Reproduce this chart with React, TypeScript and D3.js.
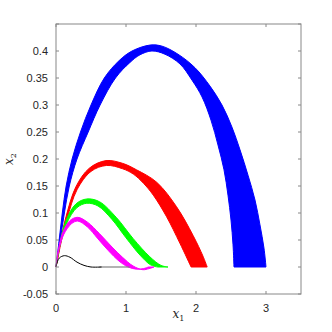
import React from "react";
import * as d3 from "d3";

type P = [number, number];

const xTicks = [0, 1, 2, 3];
const yTicks = [-0.05, 0, 0.05, 0.1, 0.15, 0.2, 0.25, 0.3, 0.35, 0.4, 0.45];
const yTickLabels = ["-0.05", "0", "0.05", "0.1", "0.15", "0.2", "0.25", "0.3", "0.35", "0.4", ""];

const blueOuter: P[] = [
  [0, 0], [0.045, 0.05], [0.09, 0.1], [0.145, 0.15], [0.23, 0.2], [0.35, 0.25],
  [0.5, 0.3], [0.69, 0.35], [0.9, 0.382], [1.086, 0.4], [1.343, 0.411],
  [1.514, 0.409], [1.743, 0.394], [1.986, 0.369], [2.2, 0.335], [2.371, 0.3], [2.514, 0.259],
  [2.629, 0.217], [2.743, 0.17], [2.843, 0.124], [2.914, 0.078], [2.971, 0.035], [3.0, 0],
];
const blueInner: P[] = [
  [0, 0], [0.06, 0.05], [0.12, 0.1], [0.19, 0.15], [0.3, 0.2], [0.46, 0.25],
  [0.63, 0.3], [0.85, 0.35], [1.05, 0.378], [1.2, 0.393], [1.371, 0.4],
  [1.557, 0.394], [1.771, 0.376], [1.943, 0.346], [2.086, 0.315], [2.214, 0.272], [2.314, 0.226],
  [2.4, 0.18], [2.457, 0.133], [2.5, 0.087], [2.529, 0.041], [2.543, 0],
];
const redOuter: P[] = [
  [0, 0], [0.03, 0.022], [0.07, 0.05], [0.143, 0.093], [0.286, 0.149], [0.476, 0.183],
  [0.714, 0.197], [0.95, 0.192], [1.15, 0.18], [1.438, 0.157], [1.72, 0.112], [1.96, 0.058],
  [2.1, 0.02], [2.16, 0],
];
const redInner: P[] = [
  [0, 0], [0.035, 0.022], [0.08, 0.05], [0.16, 0.09], [0.3, 0.143], [0.5, 0.177],
  [0.72, 0.188], [0.95, 0.182], [1.105, 0.172], [1.25, 0.155], [1.39, 0.133], [1.58, 0.093],
  [1.77, 0.044], [1.93, 0],
];
const greenOuter: P[] = [
  [0, 0], [0.048, 0.038], [0.143, 0.086], [0.286, 0.117], [0.44, 0.126], [0.62, 0.121],
  [0.86, 0.092], [1.1, 0.053], [1.34, 0.019], [1.5, 0.003], [1.6, 0],
];
const greenInner: P[] = [
  [0, 0], [0.05, 0.036], [0.15, 0.08], [0.3, 0.11], [0.44, 0.118], [0.6, 0.113],
  [0.8, 0.088], [1.0, 0.054], [1.2, 0.022], [1.35, 0.004], [1.45, 0],
];
const magentaOuter: P[] = [
  [0, 0], [0.03, 0.03], [0.1, 0.065], [0.2, 0.086], [0.31, 0.092], [0.45, 0.083],
  [0.62, 0.062], [0.8, 0.037], [0.95, 0.018], [1.1, 0.002], [1.24, -0.005], [1.33, -0.003], [1.4, 0],
];
const magentaInner: P[] = [
  [0, 0], [0.035, 0.028], [0.11, 0.06], [0.22, 0.08], [0.31, 0.085], [0.45, 0.074],
  [0.6, 0.052], [0.75, 0.03], [0.9, 0.011], [1.03, 0.0], [1.15, -0.004], [1.25, -0.003], [1.32, 0],
];
const blackCurve: P[] = [
  [0, 0], [0.02, 0.01], [0.05, 0.017], [0.12, 0.021], [0.2, 0.018], [0.3, 0.009],
  [0.4, 0.003], [0.5, 0.0], [0.65, 0],
];
const greyTail: P[] = [[0.62, 0], [1.05, 0]];

const bundles = [
  { outer: blueOuter, inner: blueInner, color: "#0000ff" },
  { outer: redOuter, inner: redInner, color: "#ff0000" },
  { outer: greenOuter, inner: greenInner, color: "#00ff00" },
  { outer: magentaOuter, inner: magentaInner, color: "#ff00ff" },
];

export default function App() {
  const W = 332, H = 332;
  const x = d3.scaleLinear().domain([0, 3.5]).range([56, 301]);
  const y = d3.scaleLinear().domain([-0.05, 0.45]).range([294, 24]);
  const line = d3.line<P>().x((d) => x(d[0])).y((d) => y(d[1])).curve(d3.curveCatmullRom.alpha(0.5));
  const axisColor = "#888888";
  const textColor = "#262626";
  const tl = 3;
  const [x0, x1] = x.range();
  const [yb, yt] = y.range();

  return (
    <svg width={W} height={H} style={{ position: "fixed", left: 0, top: 0, background: "#fff" }}>
      <rect x={0} y={0} width={W} height={H} fill="#fff" />
      {bundles.map((b, i) => {
        const d = (line(b.outer) || "") + (line([...b.inner].reverse()) || "").replace(/^M/, "L") + "Z";
        return <path key={i} d={d} fill={b.color} stroke={b.color} strokeWidth={1} strokeLinejoin="round" />;
      })}
      <path d={line(greyTail) || ""} fill="none" stroke="#808080" strokeWidth={1.2} />
      <path d={line(blackCurve) || ""} fill="none" stroke="#000" strokeWidth={1} />
      <rect x={x0} y={yt} width={x1 - x0} height={yb - yt} fill="none" stroke={axisColor} strokeWidth={1} />
      {xTicks.map((t) => (
        <g key={"x" + t}>
          <line x1={x(t)} x2={x(t)} y1={yb} y2={yb - tl} stroke={axisColor} />
          <line x1={x(t)} x2={x(t)} y1={yt} y2={yt + tl} stroke={axisColor} />
          <text x={x(t)} y={yb + 18} textAnchor="middle" fontFamily="Liberation Sans, Arial, sans-serif" fontSize={11} fill={textColor}>
            {String(t)}
          </text>
        </g>
      ))}
      {yTicks.map((t, i) => (
        <g key={"y" + i}>
          <line x1={x0} x2={x0 + tl} y1={y(t)} y2={y(t)} stroke={axisColor} />
          <line x1={x1} x2={x1 - tl} y1={y(t)} y2={y(t)} stroke={axisColor} />
          <text x={x0 - 8} y={y(t) + 4} textAnchor="end" fontFamily="Liberation Sans, Arial, sans-serif" fontSize={11} fill={textColor}>
            {yTickLabels[i]}
          </text>
        </g>
      ))}
      <text x={(x0 + x1) / 2} y={318} textAnchor="middle" fontFamily="DejaVu Serif, Liberation Serif, serif" fontStyle="italic" fontSize={12} fill={textColor}>
        x<tspan fontSize={8} dy={3} fontStyle="normal">1</tspan>
      </text>
      <text transform={`translate(13,${(yb + yt) / 2}) rotate(-90)`} textAnchor="middle" fontFamily="DejaVu Serif, Liberation Serif, serif" fontStyle="italic" fontSize={12} fill={textColor}>
        x<tspan fontSize={8} dy={3} fontStyle="normal">2</tspan>
      </text>
    </svg>
  );
}
